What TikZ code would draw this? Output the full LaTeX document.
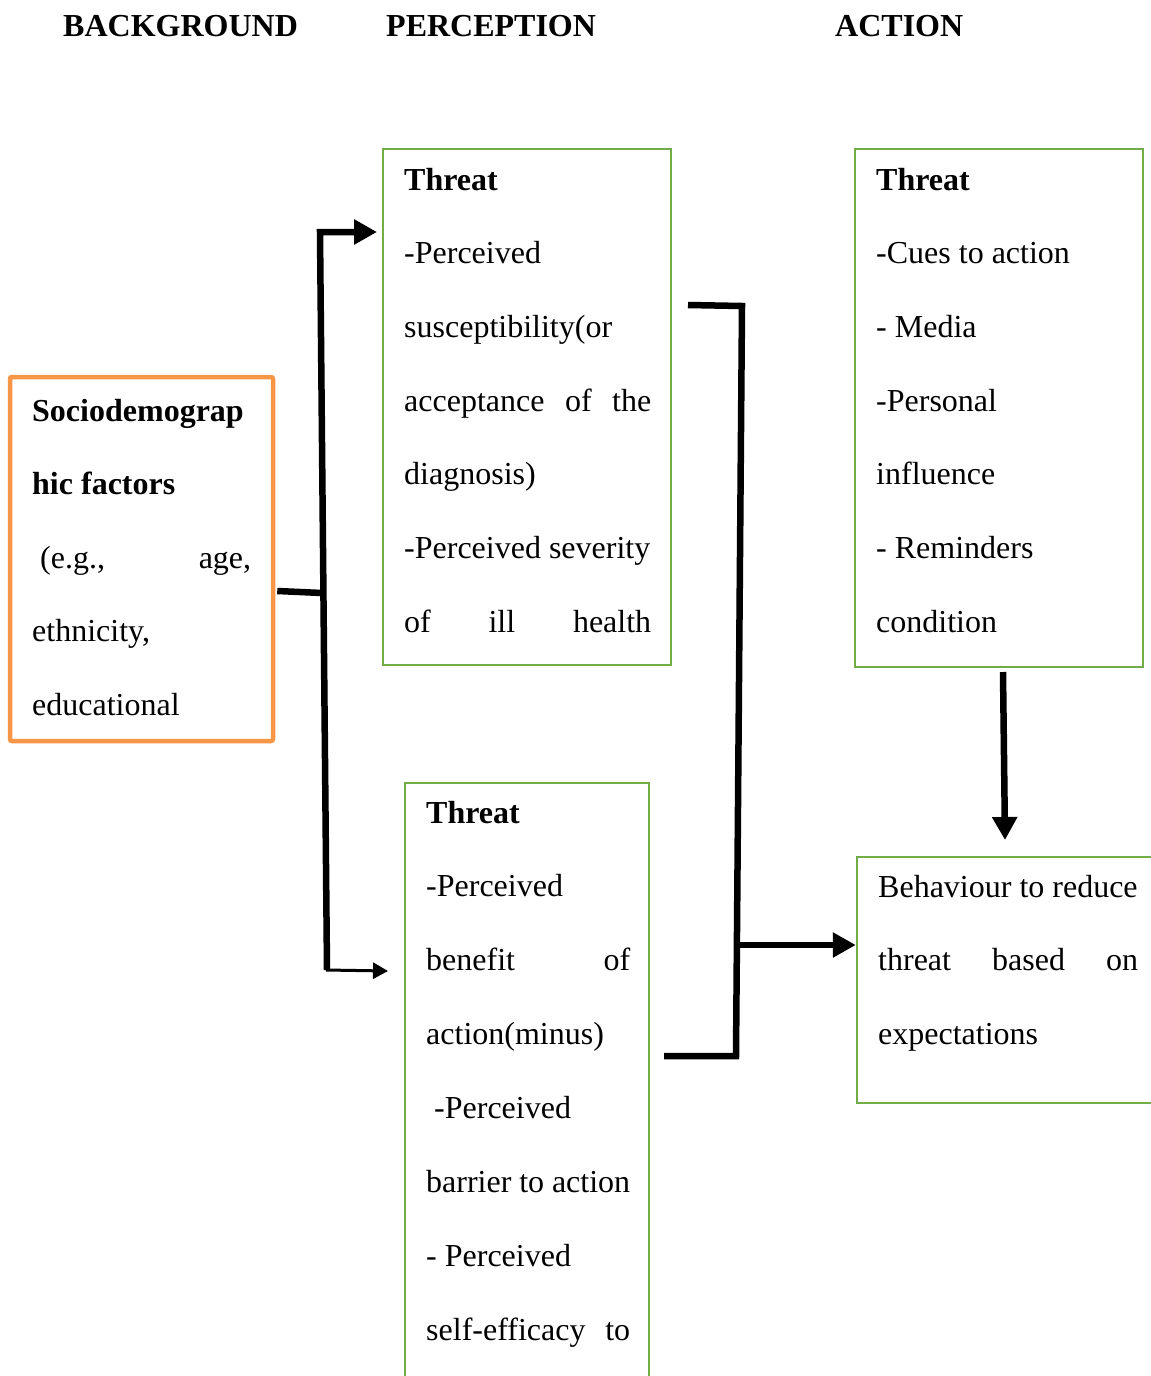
\documentclass[tikz,border=0pt]{standalone}
\usepackage{fontspec}
\setmainfont{Liberation Serif}
\usetikzlibrary{arrows.meta}
\definecolor{gframe}{HTML}{70AD47}
\definecolor{oframe}{HTML}{F79646}
\begin{document}
\begin{tikzpicture}[x=1pt,y=-1pt,
  gbox/.style={draw=gframe, line width=2.5pt, inner sep=0pt},
  obox/.style={draw=oframe, line width=4.5pt, rounded corners=2pt, inner sep=0pt},
  txt/.style={anchor=base west, inner sep=0pt},
  hdr/.style={anchor=base west, inner sep=0pt, font=\fontsize{32}{36}\selectfont\bfseries},
  conn/.style={line width=6.5pt, black, line join=miter},
  bigtip/.style={-{Triangle[length=23pt,width=24pt]}},
  smalltip/.style={-{Triangle[length=15pt,width=16pt]}}]
\clip (0,0) rectangle (1151,1376);
\fill[white] (0,0) rectangle (1151,1376);
% headers
\node[hdr] (hback) at (63,36) {BACKGROUND};
\node[hdr] (hperc) at (386,36) {PERCEPTION};
\node[hdr] (hact) at (835,36) {ACTION};
% boxes
\node[obox, minimum width=263pt, minimum height=364pt] (socio) at (141.5,559) {};
\node[gbox, minimum width=288pt, minimum height=516pt] (perc1) at (527,407) {};
\node[gbox, minimum width=244pt, minimum height=617pt] (perc2) at (527,1091.5) {};
\node[gbox, minimum width=288pt, minimum height=518pt] (act1) at (999,408) {};
\node[gbox, minimum width=308pt, minimum height=246pt] (behav) at (1011,980) {};
% texts
\node[txt] (tsocio) at (32,421) {\parbox[t]{219pt}{\fontsize{32}{73.5}\selectfont
\textbf{Sociodemograp}\\
\textbf{hic factors}\\
\hspace*{8pt}(e.g.,\hfill age,\\
ethnicity,\\
educational}};
\node[txt] (tperc1) at (404,190) {\parbox[t]{247pt}{\fontsize{32}{73.7}\selectfont
\textbf{Threat}\\
-Perceived\\
susceptibility(or\\
acceptance\hfill of\hfill the\\
diagnosis)\\
-Perceived severity\\
of\hfill ill\hfill health}};
\node[txt] (tperc2) at (426,823) {\parbox[t]{204pt}{\fontsize{32}{73.9}\selectfont
\textbf{Threat}\\
-Perceived\\
benefit\hfill of\\
action(minus)\\
\hspace*{8pt}-Perceived\\
barrier to action\\
- Perceived\\
self-efficacy\hfill to}};
\node[txt] (tact1) at (876,190) {\parbox[t]{240pt}{\fontsize{32}{73.7}\selectfont
\textbf{Threat}\\
-Cues to action\\
- Media\\
-Personal\\
influence\\
- Reminders\\
condition}};
\node[txt] (tbehav) at (878,897) {\parbox[t]{260pt}{\fontsize{32}{73.9}\selectfont
Behaviour to reduce\\
threat\hfill based\hfill on\\
expectations}};
% connector points
\coordinate (ttop) at (320,232);
\coordinate (tbot) at (327,970);
\coordinate (tj) at (322,593);
\coordinate (a1) at (377,232);
\coordinate (a2) at (388,971);
\coordinate (b1) at (688,305);
\coordinate (b2) at (742,306);
\coordinate (b3) at (736,1056);
\coordinate (b4) at (664,1056);
\coordinate (bj) at (738,945);
\coordinate (d1) at (1003,672);
\coordinate (d2) at (1005,840);
% connectors
\draw[conn] ([xshift=2pt]socio.east |- 0,591) -- (tj);
\draw[conn, bigtip] (tbot) -- (ttop) -- (a1);
\draw[line width=3pt, smalltip] ([xshift=-1pt]tbot) -- (a2);
\draw[conn] (b1) -- (b2) -- (b3) -- (b4);
\draw[conn, bigtip] (bj) -- (behav.west |- bj);
\draw[conn, bigtip] (d1) -- (d2);
\end{tikzpicture}
\end{document}
